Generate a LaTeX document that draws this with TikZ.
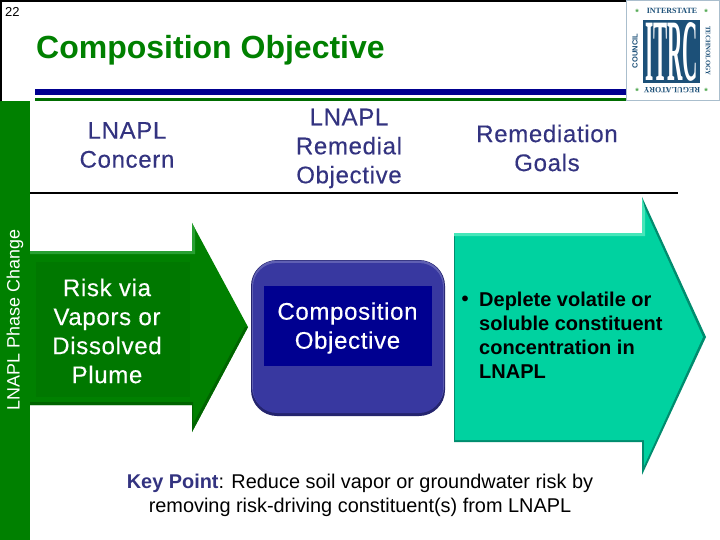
\documentclass[tikz,border=0pt]{standalone}
\usepackage{xcolor}
\usepackage{fontspec}
\setmainfont{Liberation Sans}
\newfontfamily\logoserif{Liberation Serif}
\newfontfamily\widefont[LetterSpace=2.8,FakeBold=0.3]{Liberation Sans}
\usetikzlibrary{positioning, calc}
\definecolor{mygreen}{RGB}{0,128,0}
\definecolor{mygreendark}{RGB}{0,100,0}
\definecolor{mygreeninner}{RGB}{0,120,0}
\definecolor{mygreenlite}{RGB}{40,160,50}
\definecolor{myteal}{RGB}{0,210,160}
\definecolor{mytealdark}{RGB}{0,140,110}
\definecolor{myteallite}{RGB}{70,230,185}
\definecolor{myblue}{RGB}{56,56,160}
\definecolor{mybluedark}{RGB}{36,36,110}
\definecolor{mynavy}{RGB}{0,0,144}
\definecolor{myhead}{RGB}{51,51,128}
\definecolor{mylogo}{RGB}{28,80,120}
\definecolor{mylogoline}{RGB}{170,190,205}
\tikzset{
  x=1pt, y=-1pt,
  heading/.style={align=center, font=\widefont\fontsize{24}{29}\selectfont, text=myhead, inner sep=0pt},
  inbox/.style={align=center, font=\widefont\fontsize{24}{29}\selectfont, text=white, inner sep=0pt},
  keypoint/.style={align=center, font=\fontsize{19.9}{24}\selectfont, text=black, inner sep=0pt},
  logotext/.style={font=\logoserif\bfseries\fontsize{8}{8}\selectfont, text=mylogo, inner sep=0pt},
  logostar/.style={font=\bfseries\fontsize{9}{9}\selectfont, text=mygreen!70!white, inner sep=0pt}
}
\begin{document}
\begin{tikzpicture}
  \useasboundingbox (0,0) rectangle (720,540);
  \fill[white] (0,0) rectangle (720,540);

  % frame and side bar
  \fill[black] (0,0) rectangle (720,2);
  \fill[black] (0,0) rectangle (2,101);
  \fill[mygreen] (0,101) rectangle (30,540);
  \node[rotate=90, font=\fontsize{17.9}{20}\selectfont, text=white, inner sep=0pt] (phase) at (15,320) {LNAPL Phase Change};

  \node[anchor=west, font=\bfseries\fontsize{32}{38}\selectfont, text=mygreen, inner sep=0pt] (title) at (36,50) {Composition Objective};
  \node[anchor=north west, font=\fontsize{13}{15}\selectfont, inner sep=0pt] (num) at (5,7) {22};

  % rules under the title
  \fill[mynavy] (35,89) rectangle (626,95);
  \fill[mygreen!85!black] (35,98) rectangle (626,101);
  \fill[black] (30,192) rectangle (678,194);

  % logo
  \draw[mylogoline, line width=1pt, fill=white] (626,0.5) rectangle (719,101);
  \node[fill=mylogo, text=white, inner sep=0pt, minimum width=57pt, minimum height=63pt] (itrc) at (671.5,51.5) {\resizebox{53pt}{58pt}{\logoserif\bfseries ITRC}};
  \node[logotext] (inter) at (672,11) {INTERSTATE};
  \node[logotext, rotate=180] (regul) at (672,90) {REGULATORY};
  \node[logotext, rotate=90, font=\bfseries\fontsize{7.5}{8}\selectfont] (coun) at (635,51) {COUNCIL};
  \node[logotext, rotate=-90, font=\logoserif\bfseries\fontsize{6.8}{7}\selectfont] (tech) at (708,51) {TECHNOLOGY};
  \node[logostar] (s1) at (637,12) {*};
  \node[logostar] (s2) at (706,12) {*};
  \node[logostar] (s3) at (637,91) {*};
  \node[logostar] (s4) at (706,91) {*};

  % column headings
  \node[heading] (concern) at (127,145) {LNAPL\\Concern};
  \node[heading] (remobj) at (349,148.5) {LNAPL\\Remedial\\Objective};
  \node[heading] (goals) at (547,148) {Remediation\\Goals};

  % green arrow
  \fill[mygreen] (30,251) -- (192,251) -- (192,223) -- (248,327) -- (192,432) -- (192,405) -- (30,405) -- cycle;
  \fill[mygreenlite] (30,251) -- (192,251) -- (192,223) -- (195,229) -- (195,254) -- (30,254) -- cycle;
  \fill[mygreendark] (30,405) -- (192,405) -- (192,432) -- (248,327) -- (245,327) -- (193,424) -- (193,402) -- (30,402) -- cycle;
  \fill[mygreeninner] (36,262) rectangle (190,397);
  \node[inbox] (risk) at (107,331) {Risk via\\Vapors or\\Dissolved\\Plume};

  % blue box
  \fill[mybluedark, rounded corners=26pt] (251,260) rectangle (445,416);
  \fill[myblue!80!white, rounded corners=25pt] (252,260.5) rectangle (444,412);
  \fill[myblue, rounded corners=24pt] (253,263) rectangle (443,413);
  \fill[mynavy] (264,286) rectangle (432,366);
  \node[inbox] (comp) at (347.5,328) {Composition\\Objective};

  % teal arrow
  \fill[mytealdark] (454,233) -- (642,233) -- (642,197) -- (706,337) -- (642,475) -- (642,442) -- (454,442) -- cycle;
  \fill[myteal] (455,236) -- (645,236) -- (645,209) -- (703,337) -- (644,466) -- (644,440) -- (455,440) -- cycle;
  \fill[myteallite] (454,233) -- (642,233) -- (642,197) -- (645,209) -- (645,236) -- (454,236) -- cycle;
  \node[anchor=north west, font=\bfseries\fontsize{20}{24}\selectfont, text=black, inner sep=0pt, align=left] (deplete) at (479,291.5) {Deplete volatile or\\soluble constituent\\concentration in\\LNAPL};
  \node[anchor=north, font=\bfseries\fontsize{20}{24}\selectfont, inner sep=0pt] (dot) at (465,296) {•};

  \node[keypoint] (key) at (360,495) {\textcolor{myhead}{\bfseries Key Point}: Reduce soil vapor or groundwater risk by\\removing risk-driving constituent(s) from LNAPL};
\end{tikzpicture}
\end{document}
